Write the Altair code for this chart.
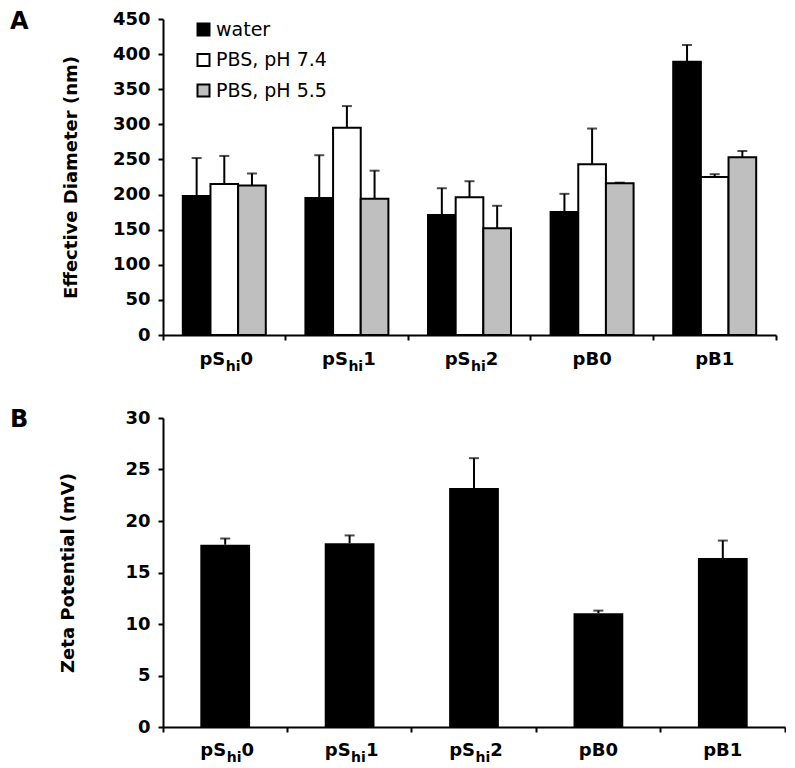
import altair as alt
import pandas as pd

FONT = "DejaVu Sans"

# ---- data ----
categories = ["pShi0", "pShi1", "pShi2", "pB0", "pB1"]
label_main = ["pS", "pS", "pS", "pB0", "pB1"]
label_sub = ["hi", "hi", "hi", "", ""]
label_tail = ["0", "1", "2", "", ""]

series = ["water", "PBS, pH 7.4", "PBS, pH 5.5"]
series_colors = ["#000000", "#ffffff", "#bfbfbf"]

diam_water = [198, 195, 171, 175, 389]
diam_water_err = [54, 61, 38, 26, 24]
diam_pbs74 = [215, 295, 196, 243, 225]
diam_pbs74_err = [40, 31, 23, 51, 4]
diam_pbs55 = [213, 194, 152, 216, 253]
diam_pbs55_err = [17, 40, 32, 1, 9]

zeta = [17.7, 17.85, 23.2, 11.05, 16.4]
zeta_err = [0.6, 0.75, 2.9, 0.25, 1.7]

diam_ticks = [0, 50, 100, 150, 200, 250, 300, 350, 400, 450]
zeta_ticks = [0, 5, 10, 15, 20, 25, 30]
panel_letters = ["A", "B"]

# ---- tables ----
rows = []
for s, vals, errs in zip(series, [diam_water, diam_pbs74, diam_pbs55],
                         [diam_water_err, diam_pbs74_err, diam_pbs55_err]):
    for c, v, e in zip(categories, vals, errs):
        rows.append({"cat": c, "series": s, "value": v, "top": v + e})
df_top = pd.DataFrame(rows)
df_zeta = pd.DataFrame({"cat": categories, "value": zeta,
                        "top": [v + e for v, e in zip(zeta, zeta_err)]})
df_lab = pd.DataFrame({"cat": categories, "main": label_main,
                       "sub": label_sub, "tail": label_tail})

W1, H1 = 613, 316
W2, H2 = 622, 309


def x_enc():
    return alt.X("cat:N", sort=categories,
                 scale=alt.Scale(paddingInner=0, paddingOuter=0),
                 axis=alt.Axis(labels=False, title=None, bandPosition=1,
                               tickExtra=True, tickSize=5, tickWidth=2,
                               tickColor="black", domainWidth=2,
                               domainColor="black", grid=False))


def y_axis(title, values, tpad):
    return alt.Axis(values=values, title=title, titleFont=FONT,
                    titleFontSize=18, titleFontWeight="bold",
                    titleColor="black", titlePadding=tpad, labelFont=FONT,
                    labelFontSize=18, labelFontWeight="bold",
                    labelColor="black", labelPadding=8, labelOverlap=False,
                    tickSize=5, tickWidth=2, tickColor="black",
                    domainWidth=2, domainColor="black", grid=False)


def y_enc(field, domain, axis):
    return alt.Y(field, scale=alt.Scale(domain=domain, nice=False), axis=axis)


def label_layers(H, off):
    base = alt.Chart(df_lab).encode(x=alt.X("cat:N", sort=categories))
    common = dict(font=FONT, fontWeight="bold", color="black",
                  baseline="alphabetic")
    split = base.transform_filter("datum.sub != ''")
    whole = base.transform_filter("datum.sub == ''")
    m = split.mark_text(align="right", dx=1, fontSize=18, **common).encode(
        text="main:N", y=alt.value(H + off))
    sb = split.mark_text(align="left", dx=1.5, dy=6, fontSize=14, **common).encode(
        text="sub:N", y=alt.value(H + off))
    t = split.mark_text(align="left", dx=16.3, fontSize=18, **common).encode(
        text="tail:N", y=alt.value(H + off))
    w = whole.mark_text(align="center", fontSize=18, **common).encode(
        text="main:N", y=alt.value(H + off))
    return [m, sb, t, w]


def letter(i, dy):
    return alt.Chart(pd.DataFrame({"t": [panel_letters[i]]})).mark_text(
        align="left", baseline="top", font=FONT, fontSize=24,
        fontWeight="bold", color="black").encode(
        text="t:N", x=alt.value(-153), y=alt.value(dy))


# ---- top chart ----
xoff = alt.XOffset("series:N", sort=series,
                   scale=alt.Scale(paddingInner=0, paddingOuter=0.716))
ax_top = y_axis("Effective Diameter (nm)", diam_ticks, 32)
dom_top = [0, 450]

base_top = alt.Chart(df_top)
bars_top = base_top.mark_bar(stroke="black", strokeWidth=2).encode(
    x=x_enc(), xOffset=xoff, y=y_enc("value:Q", dom_top, ax_top),
    fill=alt.Fill("series:N", sort=series,
                  scale=alt.Scale(domain=series, range=series_colors),
                  legend=alt.Legend(title=None, orient="none", legendX=31,
                                    legendY=1, symbolType="square",
                                    symbolSize=144, symbolStrokeColor="black",
                                    symbolStrokeWidth=2, labelFont=FONT,
                                    labelFontSize=19, labelColor="black",
                                    labelOffset=3, rowPadding=9.5,
                                    padding=0)))
err_top = base_top.mark_rule(color="black", strokeWidth=2).encode(
    x=alt.X("cat:N", sort=categories), xOffset=xoff,
    y=y_enc("value:Q", dom_top, ax_top), y2="top:Q")
cap_top = base_top.mark_tick(color="black", thickness=2, size=10,
                             orient="horizontal").encode(
    x=alt.X("cat:N", sort=categories), xOffset=xoff,
    y=y_enc("top:Q", dom_top, ax_top))

top = alt.layer(bars_top, err_top, cap_top, *label_layers(H1, 30),
                letter(0, -9)).properties(width=W1, height=H1)

# ---- bottom chart ----
ax_bot = y_axis("Zeta Potential (mV)", zeta_ticks, 47)
dom_bot = [0, 30]
base_bot = alt.Chart(df_zeta)
bars_bot = base_bot.mark_bar(color="black",
                             width=alt.RelativeBandSize(0.4)).encode(
    x=x_enc(), y=y_enc("value:Q", dom_bot, ax_bot))
err_bot = base_bot.mark_rule(color="black", strokeWidth=2).encode(
    x=alt.X("cat:N", sort=categories), y=y_enc("value:Q", dom_bot, ax_bot),
    y2="top:Q")
cap_bot = base_bot.mark_tick(color="black", thickness=2, size=10,
                             orient="horizontal").encode(
    x=alt.X("cat:N", sort=categories), y=y_enc("top:Q", dom_bot, ax_bot))

bottom = alt.layer(bars_bot, err_bot, cap_bot, *label_layers(H2, 29),
                   letter(1, -10.5)).properties(width=W2, height=H2)

chart = alt.vconcat(top, bottom, spacing=33).configure(
    padding={"left": 2, "top": 2, "right": 0, "bottom": 0},
    background="white").configure_view(stroke=None)

chart.save("out.html", embed_options={"renderer": "svg", "actions": False})
